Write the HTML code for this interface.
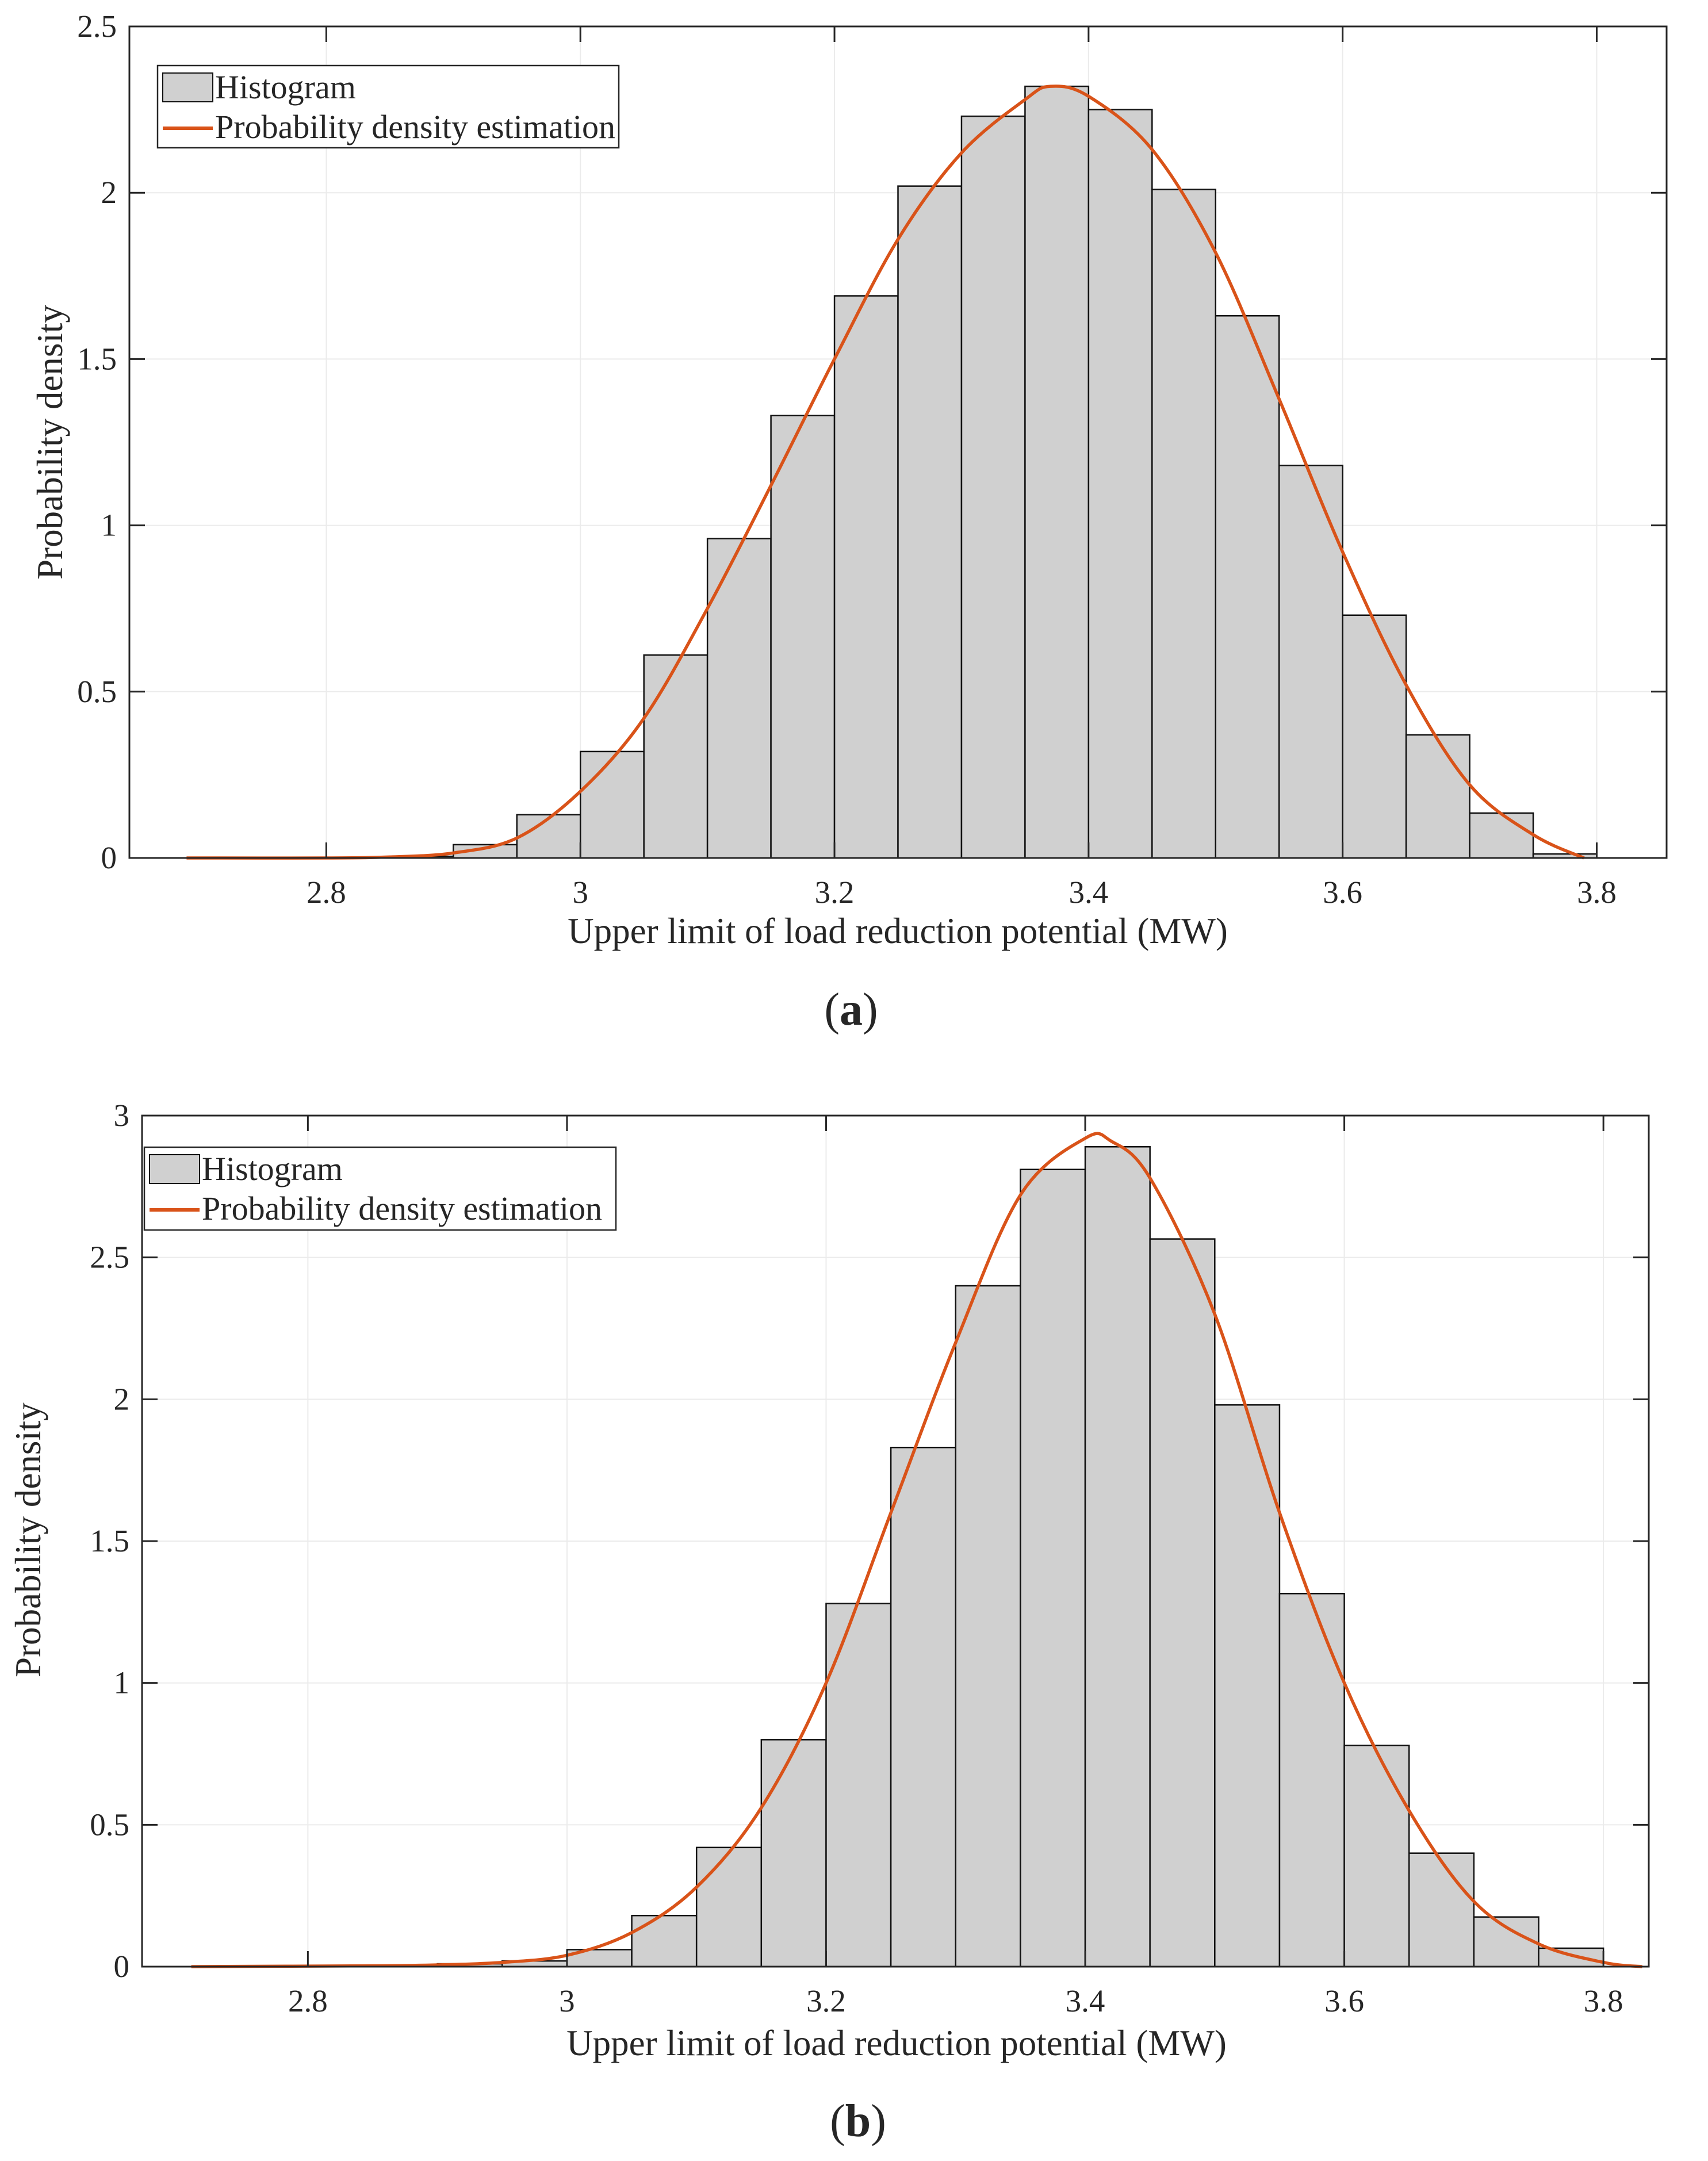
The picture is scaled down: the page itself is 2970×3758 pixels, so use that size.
<!DOCTYPE html>
<html><head><meta charset="utf-8"><style>
html,body{margin:0;padding:0;background:#fff;}
svg{display:block;}
text{font-family:"Liberation Serif",serif;fill:#262626;}
</style></head>
<body>
<svg id="fig" width="2970" height="3758" viewBox="0 0 2970 3758" xmlns="http://www.w3.org/2000/svg"></svg>
<script>
// Panel (a) data
const binEdgesA = [2.85,2.9,2.95,3.0,3.05,3.1,3.15,3.2,3.25,3.3,3.35,3.4,3.45,3.5,3.55,3.6,3.65,3.7,3.75,3.8];
const densityA = [0.005,0.04,0.13,0.32,0.61,0.96,1.33,1.69,2.02,2.23,2.32,2.25,2.01,1.63,1.18,0.73,0.37,0.135,0.012];
const pdfXA = [2.69,2.8,2.85,2.9,2.95,3.0,3.05,3.1,3.15,3.2,3.25,3.3,3.35,3.37,3.4,3.45,3.5,3.55,3.6,3.65,3.7,3.75,3.79];
const pdfYA = [0,0,0.003,0.015,0.06,0.2,0.42,0.75,1.12,1.5,1.86,2.12,2.28,2.32,2.29,2.13,1.82,1.38,0.92,0.52,0.22,0.07,0.0];
const xTicksA = [2.8,3.0,3.2,3.4,3.6,3.8];
const xTickLabelsA = ["2.8","3","3.2","3.4","3.6","3.8"];
const yTicksA = [0,0.5,1,1.5,2,2.5];
const yTickLabelsA = ["0","0.5","1","1.5","2","2.5"];
// Panel (b) data
const binEdgesB = [2.9,2.95,3.0,3.05,3.1,3.15,3.2,3.25,3.3,3.35,3.4,3.45,3.5,3.55,3.6,3.65,3.7,3.75,3.8];
const densityB = [0.01,0.02,0.06,0.18,0.42,0.80,1.28,1.83,2.40,2.81,2.89,2.565,1.98,1.315,0.78,0.40,0.175,0.065];
const pdfXB = [2.71,2.85,2.9,2.95,3.0,3.05,3.1,3.15,3.2,3.25,3.3,3.35,3.4,3.42,3.45,3.5,3.55,3.6,3.65,3.7,3.75,3.8,3.83];
const pdfYB = [0,0.003,0.006,0.015,0.04,0.12,0.28,0.56,1.0,1.6,2.2,2.72,2.92,2.91,2.78,2.3,1.6,1.0,0.55,0.23,0.08,0.015,0];
const xTicksB = [2.8,3.0,3.2,3.4,3.6,3.8];
const xTickLabelsB = ["2.8","3","3.2","3.4","3.6","3.8"];
const yTicksB = [0,0.5,1,1.5,2,2.5,3];
const yTickLabelsB = ["0","0.5","1","1.5","2","2.5","3"];

const NS="http://www.w3.org/2000/svg";
const svg=document.getElementById('fig');
function mk(tag,attrs,parent){const e=document.createElementNS(NS,tag);for(const k in attrs)e.setAttribute(k,attrs[k]);(parent||svg).appendChild(e);return e;}

function smoothPath(p){
  let d='M'+p[0][0].toFixed(1)+','+p[0][1].toFixed(1);
  for(let i=0;i<p.length-1;i++){
    const p0=p[Math.max(0,i-1)],p1=p[i],p2=p[i+1],p3=p[Math.min(p.length-1,i+2)];
    const c1x=p1[0]+(p2[0]-p0[0])/6,c1y=p1[1]+(p2[1]-p0[1])/6;
    const c2x=p2[0]-(p3[0]-p1[0])/6,c2y=p2[1]-(p3[1]-p1[1])/6;
    d+=' C'+c1x.toFixed(1)+','+c1y.toFixed(1)+' '+c2x.toFixed(1)+','+c2y.toFixed(1)+' '+p2[0].toFixed(1)+','+p2[1].toFixed(1);
  }
  return d;
}

function panel(cfg){
  const g=mk('g',{});
  
  
  const L=cfg.box[0],T=cfg.box[1],R=cfg.box[2],B=cfg.box[3];
  const sx=v=>L+(v-cfg.xlim[0])/(cfg.xlim[1]-cfg.xlim[0])*(R-L);
  const sy=v=>B-(v-cfg.ylim[0])/(cfg.ylim[1]-cfg.ylim[0])*(B-T);
  cfg.xt.forEach(v=>{const l=mk('line',{x1:sx(v),x2:sx(v),y1:T,y2:B,stroke:'#ebebeb','stroke-width':2},g);
    });
  cfg.yt.forEach(v=>{const l=mk('line',{x1:L,x2:R,y1:sy(v),y2:sy(v),stroke:'#ebebeb','stroke-width':2},g);
    });
  cfg.density.forEach((d,i)=>{
    const x0=sx(cfg.edges[i]),x1=sx(cfg.edges[i+1]);
    const r=mk('rect',{x:x0,y:sy(d),width:x1-x0,height:sy(0)-sy(d),fill:'#d0d0d0',stroke:'#111','stroke-width':2.5},g);
    
    
  });
  const pts=cfg.px.map((x,i)=>[sx(x),sy(cfg.py[i])]);
  const pl=mk('path',{d:smoothPath(pts),fill:'none',stroke:'#d95319','stroke-width':5.5,'stroke-linejoin':'round'},g);
  
  
  const bx=mk('rect',{x:L,y:T,width:R-L,height:B-T,fill:'none',stroke:'#262626','stroke-width':3},g);
  
  
  const tl=27;
  cfg.xt.forEach((v,i)=>{
    mk('line',{x1:sx(v),x2:sx(v),y1:B,y2:B-tl,stroke:'#262626','stroke-width':3},g);
    mk('line',{x1:sx(v),x2:sx(v),y1:T,y2:T+tl,stroke:'#262626','stroke-width':3},g);
    const t=mk('text',{x:sx(v),y:B+78,'font-size':55,'text-anchor':'middle'},g);
    t.textContent=cfg.xl[i];
    
    
  });
  cfg.yt.forEach((v,i)=>{
    mk('line',{x1:L,x2:L+tl,y1:sy(v),y2:sy(v),stroke:'#262626','stroke-width':3},g);
    mk('line',{x1:R,x2:R-tl,y1:sy(v),y2:sy(v),stroke:'#262626','stroke-width':3},g);
    const t=mk('text',{x:L-22,y:sy(v)+18,'font-size':55,'text-anchor':'end'},g);
    t.textContent=cfg.yl[i];
    
    
  });
  const xt=mk('text',{x:cfg.xtitle[0],y:cfg.xtitle[1],'font-size':63,'text-anchor':'middle'},g);
  xt.textContent='Upper limit of load reduction potential (MW)';
  
  
  const yt=mk('text',{x:0,y:0,'font-size':63,'text-anchor':'middle',transform:`translate(${cfg.ytitle[0]},${cfg.ytitle[1]}) rotate(-90)`},g);
  yt.textContent='Probability density';
  
  
  const lg=mk('g',{},g);
  
  
  const [lx,ly,lw,lh]=cfg.legend;
  mk('rect',{x:lx,y:ly,width:lw,height:lh,fill:'#fff',stroke:'#262626','stroke-width':2.5},lg);
  const sw=mk('rect',{x:lx+9,y:ly+13,width:87,height:50,fill:'#d0d0d0',stroke:'#111','stroke-width':2},lg);
  
  
  const t1=mk('text',{x:lx+100,y:ly+57,'font-size':58},lg);
  t1.textContent='Histogram';
  
  
  const ln=mk('line',{x1:lx+9,x2:lx+96,y1:ly+109,y2:ly+109,stroke:'#d95319','stroke-width':6},lg);
  
  
  const t2=mk('text',{x:lx+100,y:ly+126,'font-size':58},lg);
  t2.textContent='Probability density estimation';
  
  
  const pl2=mk('text',{x:cfg.plabel[0],y:cfg.plabel[1],'font-size':80,'text-anchor':'middle'},g);
  pl2.innerHTML='(<tspan font-weight="bold">'+cfg.letter+'</tspan>)';
  
  
}

panel({name:'chart-a',box:[225,46,2898,1492],xlim:[2.645,3.855],ylim:[0,2.5],
  edges:binEdgesA,density:densityA,px:pdfXA,py:pdfYA,xt:xTicksA,xl:xTickLabelsA,yt:yTicksA,yl:yTickLabelsA,
  xtitle:[1561,1640],ytitle:[108,769],legend:[274,114,802,143],plabel:[1480,1782],letter:'a'});
panel({name:'chart-b',box:[247,1940,2867,3420],xlim:[2.672,3.835],ylim:[0,3],
  edges:binEdgesB,density:densityB,px:pdfXB,py:pdfYB,xt:xTicksB,xl:xTickLabelsB,yt:yTicksB,yl:yTickLabelsB,
  xtitle:[1559,3574],ytitle:[70,2678],legend:[251,1995,820,144],plabel:[1492,3715],letter:'b'});
</script>
</body></html>
